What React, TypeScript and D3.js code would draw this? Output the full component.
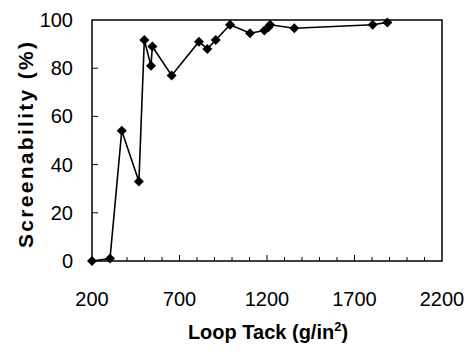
import React, { useRef, useEffect } from 'react';
import * as d3 from 'd3';

const loopTack = [200, 303, 370, 468, 499, 537, 545, 655, 811, 859, 907, 989, 1103, 1185, 1208, 1218, 1356, 1804, 1888];
const screenability = [0, 1, 54, 33, 91.7, 81, 89, 77, 91, 88, 91.7, 98, 94.5, 95.6, 97, 98, 96.6, 98, 99];
const xTicks = [200, 700, 1200, 1700, 2200];
const yTicks = [0, 20, 40, 60, 80, 100];

const W = 467, H = 352;
const margin = { top: 20, right: 25, bottom: 91, left: 92 };

const App = () => {
  const svgRef = useRef<SVGSVGElement>(null);

  useEffect(() => {
    if (!svgRef.current) return;
    const root = d3.select(svgRef.current);
    root.selectAll('*').remove();
    const width = W - margin.left - margin.right;
    const height = H - margin.top - margin.bottom;
    const svg = root.append('g').attr('transform', `translate(${margin.left},${margin.top})`);

    const x = d3.scaleLinear().domain([200, 2200]).range([0, width]);
    const y = d3.scaleLinear().domain([0, 100]).range([height, 0]);
    const font = 'Liberation Sans, Arial, sans-serif';

    // minor ticks on the bottom, pointing up
    svg.append('g')
      .selectAll('line')
      .data(d3.range(300, 2200, 100))
      .join('line')
      .attr('x1', (d) => x(d)).attr('x2', (d) => x(d))
      .attr('y1', height).attr('y2', (d) => height - ((d - 200) % 500 === 0 ? 6 : 4))
      .attr('stroke', '#000').attr('stroke-width', 1);

    svg.append('g')
      .selectAll('line')
      .data(yTicks.slice(1, -1))
      .join('line')
      .attr('x1', 0).attr('x2', 6)
      .attr('y1', (d) => y(d)).attr('y2', (d) => y(d))
      .attr('stroke', '#000').attr('stroke-width', 1);

    // frame
    svg.append('rect')
      .attr('width', width).attr('height', height)
      .attr('fill', 'none').attr('stroke', '#000').attr('stroke-width', 1.5);

    svg.append('g')
      .selectAll('text')
      .data(xTicks)
      .join('text')
      .attr('x', (d) => x(d)).attr('y', height + 45)
      .attr('text-anchor', 'middle')
      .style('font-family', font).style('font-size', '20px')
      .text((d) => d);

    svg.append('g')
      .selectAll('text')
      .data(yTicks)
      .join('text')
      .attr('x', -19).attr('y', (d) => y(d) + 7)
      .attr('text-anchor', 'end')
      .style('font-family', font).style('font-size', '20px')
      .text((d) => d);

    const pts = loopTack.map((d, i) => [d, screenability[i]] as [number, number]);
    svg.append('path')
      .datum(pts)
      .attr('fill', 'none').attr('stroke', '#000').attr('stroke-width', 1.6)
      .attr('d', d3.line().x((d) => x(d[0])).y((d) => y(d[1])));

    svg.append('g')
      .selectAll('path')
      .data(pts)
      .join('path')
      .attr('d', d3.symbol().type(d3.symbolSquare).size(50))
      .attr('transform', (d) => `translate(${x(d[0])},${y(d[1])}) rotate(45)`)
      .attr('fill', '#000');

    root.append('text')
      .attr('x', 268).attr('y', 339)
      .attr('text-anchor', 'middle')
      .style('font-family', font).style('font-size', '20px').style('font-weight', 'bold')
      .text('Loop Tack (g/in')
      .call((t) => t.append('tspan').attr('dy', -8).style('font-size', '13px').text('2'))
      .call((t) => t.append('tspan').attr('dy', 8).text(')'));

    root.append('text')
      .attr('transform', 'translate(33,145) rotate(-90)')
      .attr('text-anchor', 'middle')
      .attr('textLength', 206).attr('lengthAdjust', 'spacing')
      .style('font-family', font).style('font-size', '21px').style('font-weight', 'bold')
      .text('Screenability (%)');
  }, []);

  return (
    <div style={{ position: 'absolute', left: 0, top: 0, background: '#fff' }}>
      <svg ref={svgRef} width={W} height={H} />
    </div>
  );
};

export default App;
